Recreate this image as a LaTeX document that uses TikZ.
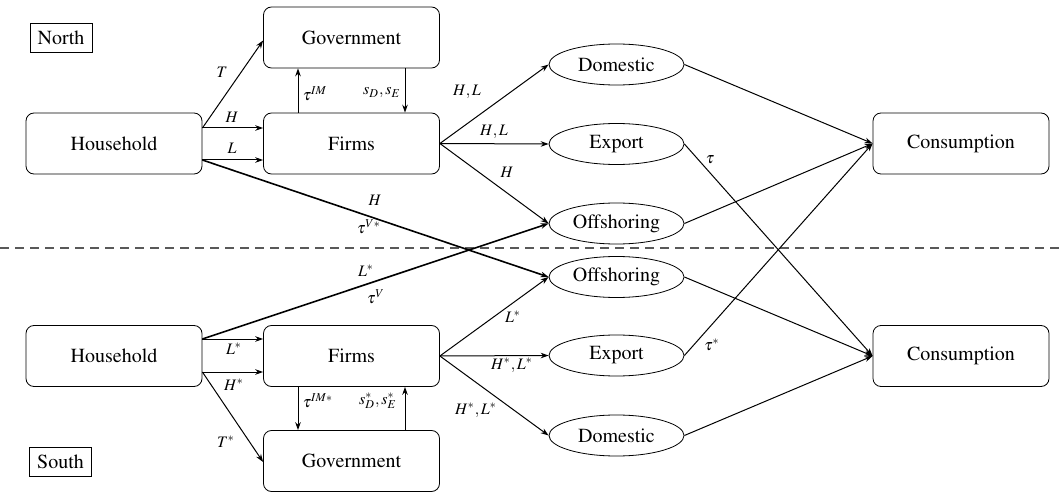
\documentclass[tikz,border=0pt]{standalone}
\usepackage[T1]{fontenc}
\usepackage{mathptmx}
\usetikzlibrary{shapes.geometric,arrows.meta,calc}
\begin{document}
\begin{tikzpicture}[x=0.5pt,y=-0.5pt,
  box/.style={draw, rounded corners=4pt, minimum width=88pt, minimum height=30.5pt, inner sep=0pt},
  oval/.style={draw, ellipse, minimum width=67.5pt, minimum height=20.5pt, inner sep=0pt},
  tag/.style={draw, rectangle, inner sep=0pt, minimum width=31pt, minimum height=14.5pt},
  arr/.style={-{Stealth[length=4pt,width=2.8pt]}, line width=0.5pt},
  thk/.style={line width=0.8pt},
  lab/.style={font=\footnotesize, inner sep=0pt},
  sep/.style={draw=black!65, line width=0.6pt, dash pattern=on 4.5pt off 3pt}
]
\useasboundingbox (0,0) rectangle (1061,492);

% separator
\coordinate (sepL) at (0,248);
\coordinate (sepR) at (1061,248);
\draw[sep] (sepL) -- (sepR);

% region tags
\node[tag] (north) at (61,37.5) {North};
\node[tag] (south) at (60.5,462) {South};

% North nodes
\node[box] (govN)   at (351.5,37.5)  {Government};
\node[box] (houseN) at (114,143.5)   {Household};
\node[box] (firmsN) at (351.5,143.5) {Firms};
\node[oval] (domN)  at (616.5,64.5)  {Domestic};
\node[oval] (expN)  at (616.5,144)   {Export};
\node[oval] (offN)  at (616.5,223.5) {Offshoring};
\node[box] (consN)  at (961,143.5)   {Consumption};

% South nodes
\node[box] (houseS) at (114,356)     {Household};
\node[box] (firmsS) at (351.5,356)   {Firms};
\node[box] (govS)   at (351.5,461)   {Government};
\node[oval] (offS)  at (616.5,277)   {Offshoring};
\node[oval] (expS)  at (616.5,355.5) {Export};
\node[oval] (domS)  at (616.5,435.5) {Domestic};
\node[box] (consS)  at (961,356)     {Consumption};

% ---- North connectors
\draw[arr] ([yshift=7.75pt]houseN.east) -- ([yshift=-1.5pt]govN.west);
\draw[arr] ([yshift=7.75pt]houseN.east) -- ([yshift=7.75pt]firmsN.west);
\draw[arr] ([yshift=-8.25pt]houseN.east) -- ([yshift=-8.25pt]firmsN.west);
\draw[arr,thk] ([yshift=-8.25pt]houseN.east) -- (offS.west);
\draw[arr] ([xshift=-26.75pt]firmsN.north) -- ([xshift=-26.75pt]govN.south);
\draw[arr] ([xshift=26.75pt]govN.south) -- ([xshift=26.75pt]firmsN.north);
\draw[arr] (firmsN.east) -- (domN.west);
\draw[arr] (firmsN.east) -- (expN.west);
\draw[arr] (firmsN.east) -- (offN.west);
\draw[arr] (domN.east) -- (consN.west);
\draw[arr] (expN.east) -- (consS.west);
\draw[arr] (offN.east) -- (consN.west);

% ---- South connectors
\draw[arr,thk] ([yshift=8.5pt]houseS.east) -- (offN.west);
\draw[arr] ([yshift=8.5pt]houseS.east) -- ([yshift=8.5pt]firmsS.west);
\draw[arr] ([yshift=-8pt]houseS.east) -- ([yshift=-8pt]firmsS.west);
\draw[arr] ([yshift=-8pt]houseS.east) -- ([yshift=-0.5pt]govS.west);
\draw[arr] ([xshift=-26.75pt]firmsS.south) -- ([xshift=-26.75pt]govS.north);
\draw[arr] ([xshift=26.75pt]govS.north) -- ([xshift=26.75pt]firmsS.south);
\draw[arr] (firmsS.east) -- (offS.west);
\draw[arr] (firmsS.east) -- (expS.west);
\draw[arr] (firmsS.east) -- (domS.west);
\draw[arr] (offS.east) -- (consS.west);
\draw[arr] (expS.east) -- (consN.west);
\draw[arr] (domS.east) -- (consS.west);

% ---- North labels
\node[lab] (lT)   at (222,72)  {$T$};
\node[lab] (lH)   at (232,117) {$H$};
\node[lab] (lL)   at (232,148) {$L$};
\node[lab] (lIM)  at (315,94)  {$\tau^{IM}$};
\node[lab] (lsDE) at (382,93)  {$s_D,s_E$};
\node[lab] (lHd)  at (375,200) {$H$};
\node[lab] (lVs)  at (369,227) {$\tau^{V*}$};
\node[lab] (lHL1) at (467,92)  {$H,L$};
\node[lab] (lHL2) at (494,132) {$H,L$};
\node[lab] (lH3)  at (507,172) {$H$};
\node[lab] (ltau) at (710,160) {$\tau$};

% ---- South labels
\node[lab] (lLsd) at (366,271) {$L^*$};
\node[lab] (lV)   at (376,297) {$\tau^{V}$};
\node[lab] (lLs)  at (234,349) {$L^*$};
\node[lab] (lHs)  at (234,385) {$H^*$};
\node[lab] (lTs)  at (226,442) {$T^*$};
\node[lab] (lIMs) at (318,401) {$\tau^{IM*}$};
\node[lab] (lsDEs) at (378,401) {$s_D^*,s_E^*$};
\node[lab] (lLs2) at (513,317) {$L^*$};
\node[lab] (lHLs) at (512,365) {$H^*,L^*$};
\node[lab] (lHLs2) at (476,410) {$H^*,L^*$};
\node[lab] (ltaus) at (712,345) {$\tau^*$};
\end{tikzpicture}
\end{document}
